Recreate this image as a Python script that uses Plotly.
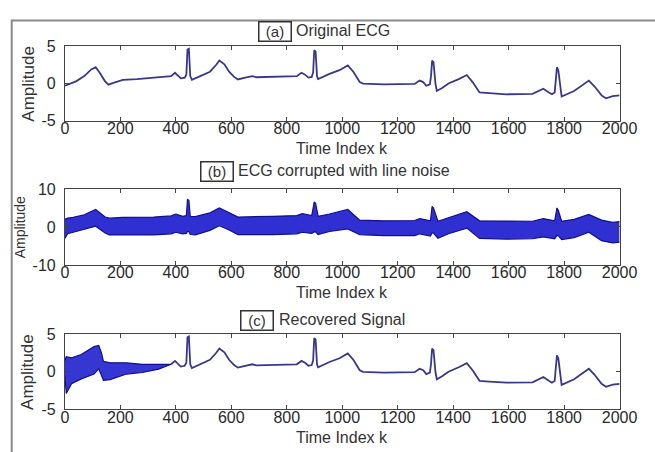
import plotly.graph_objects as go

# ---------------- data ----------------
ecg_k = [0, 15, 40, 70, 95, 111, 125, 145, 157, 175, 209, 260, 320, 383, 397, 418, 432, 438, 442, 447,
         452, 458, 488, 523, 545, 557, 575, 592, 610, 624, 650, 676, 690, 750, 836, 853, 866, 878, 890,
         895, 899, 904, 909, 913, 954, 990, 1020, 1040, 1063, 1075, 1150, 1261, 1279, 1292, 1303, 1316,
         1320, 1324, 1329, 1336, 1341, 1360, 1383, 1420, 1449, 1470, 1495, 1530, 1592, 1686, 1725, 1745,
         1756, 1766, 1771, 1774, 1779, 1785, 1791, 1836, 1870, 1889, 1910, 1935, 1951, 1975, 2000]
ecg_v = [-0.3, -0.1, 0.3, 1.0, 1.9, 2.2, 1.5, 0.3, -0.15, 0.1, 0.5, 0.6, 0.75, 1.0, 1.45, 0.7, 0.8, 1.2, 4.6, 4.7,
         1.0, 0.5, 1.0, 1.6, 2.5, 3.1, 2.6, 1.6, 0.9, 0.55, 0.8, 1.0, 0.85, 0.9, 1.0, 1.45, 1.2, 0.8, 0.9,
         1.5, 4.5, 4.3, 1.0, 0.6, 1.3, 1.8, 2.45, 1.6, 0.2, 0.0, -0.1, -0.05, 0.4, 0.2, -0.3, -0.1,
         1.0, 3.1, 2.9, 0.0, -1.0, -0.6, 0.0, 0.6, 1.15, 0.2, -1.2, -1.3, -1.45, -1.4, -0.7, -1.2,
         -1.45, -1.2, 0.5, 2.2, 1.8, -0.5, -1.75, -1.0, -0.1, 0.4, -0.4, -1.6, -2.0, -1.7, -1.6]

# corrupted signal (b): envelope of the line-noise band
noisy_k = [0, 10, 30, 70, 111, 145, 160, 209, 320, 383, 400, 425, 438, 442, 447, 452, 470, 523, 557, 592,
           624, 750, 836, 856, 890, 899, 904, 913, 954, 1020, 1063, 1150, 1261, 1280, 1318, 1324, 1329,
           1345, 1383, 1449, 1495, 1592, 1686, 1725, 1766, 1774, 1779, 1791, 1836, 1889, 1935, 1975, 2000]
noisy_upper = [2.0, 2.3, 2.5, 3.2, 4.6, 2.6, 2.3, 2.5, 2.6, 2.9, 3.4, 2.8, 3.0, 7.2, 7.0, 2.8, 2.7, 3.7, 5.0, 3.7,
               2.6, 2.8, 3.0, 3.5, 3.0, 6.6, 6.2, 2.8, 3.4, 4.6, 1.8, 1.6, 1.7, 2.2, 1.6, 5.4, 5.0,
               1.5, 2.4, 4.0, 1.6, 1.5, 1.5, 2.2, 1.6, 5.0, 4.4, 1.5, 2.0, 3.3, 1.8, 1.2, 1.4]
noisy_lower = [-3.0, -1.8, -1.4, -0.7, 0.2, -1.6, -2.1, -2.1, -2.1, -1.8, -1.4, -1.8, -1.7, -1.2, -1.2, -2.0, -2.1, -0.9, 0.3, -0.8,
               -2.0, -2.0, -1.8, -1.4, -1.7, -1.3, -1.3, -2.0, -1.2, -0.5, -2.0, -2.3, -2.3, -1.8, -2.4, -1.5, -1.6,
               -3.0, -1.8, -0.3, -3.0, -3.2, -3.1, -2.6, -3.1, -2.2, -2.3, -3.3, -2.8, -1.4, -3.6, -4.2, -4.0]

# recovered signal (c): residual noise band while the filter converges
resid_k = [0, 5, 24, 59, 105, 122, 132, 139, 163, 222, 279, 338, 383]
resid_upper = [1.5, 2.0, 1.85, 2.3, 3.35, 3.5, 2.5, 1.4, 1.2, 1.2, 1.0, 1.0, 1.0]
resid_lower = [-0.5, -2.9, -1.6, -0.95, -0.3, 0.4, -0.5, -1.15, -1.05, -0.3, -0.1, 0.35, 1.0]

x_ticks = [0, 200, 400, 600, 800, 1000, 1200, 1400, 1600, 1800, 2000]
y_ticks_small = [-5, 0, 5]
y_ticks_big = [-10, 0, 10]
titles = [("(a)", "Original ECG"), ("(b)", "ECG corrupted with line noise"), ("(c)", "Recovered Signal")]
x_label = "Time Index k"
y_label = "Amplitude"

# ---------------- layout helpers ----------------
W, H = 655, 452
def px(x):
    return x / W
def py(y):
    return 1 - y / H

FONT = "Liberation Sans, Arial, sans-serif"
ecg_color = "#38388a"

fig = go.Figure()

# (c) recovered = original after convergence
rec_k = [k for k in ecg_k if k >= 383]
rec_v = [v for k, v in zip(ecg_k, ecg_v) if k >= 383]

fig.add_trace(go.Scatter(x=ecg_k, y=ecg_v, mode="lines", line=dict(color=ecg_color, width=1.8),
                         xaxis="x", yaxis="y", showlegend=False))
fig.add_trace(go.Scatter(x=noisy_k, y=noisy_lower, mode="lines", line=dict(color="#10108e", width=1.2),
                         xaxis="x2", yaxis="y2", showlegend=False))
fig.add_trace(go.Scatter(x=noisy_k, y=noisy_upper, mode="lines", line=dict(color="#10108e", width=1.2),
                         fill="tonexty", fillcolor="rgba(26,26,205,0.9)",
                         xaxis="x2", yaxis="y2", showlegend=False))
fig.add_trace(go.Scatter(x=rec_k, y=rec_v, mode="lines", line=dict(color=ecg_color, width=1.8),
                         xaxis="x3", yaxis="y3", showlegend=False))
fig.add_trace(go.Scatter(x=resid_k, y=resid_lower, mode="lines", line=dict(color="#10108e", width=1.2),
                         xaxis="x3", yaxis="y3", showlegend=False))
fig.add_trace(go.Scatter(x=resid_k, y=resid_upper, mode="lines", line=dict(color="#10108e", width=1.2),
                         fill="tonexty", fillcolor="rgba(26,26,205,0.88)",
                         xaxis="x3", yaxis="y3", showlegend=False))

panels = [(40, 117, y_ticks_small, [-5, 5]), (188, 267, y_ticks_big, [-10, 10]), (339, 417, y_ticks_small, [-5, 5])]
xdom = [px(63), px(637)]

axis_common = dict(showline=True, linecolor="#444", linewidth=1, mirror="ticks", ticks="inside",
                   ticklen=4, tickcolor="#444", showgrid=False, zeroline=False,
                   tickfont=dict(family=FONT, size=16, color="#2a2a2a"))

layout = dict(width=W, height=H, margin=dict(l=0, r=0, t=0, b=0), paper_bgcolor="white",
              plot_bgcolor="white", showlegend=False)
annotations = []
title_pos = [(280, 24, 300), (220, 170, 240), (262, 325, 283)]
xlabel_y = [146, 296, 446]
ylabel_x = [25, 17, 25]
ylabel_size = [17, 14, 17]
for i, (top, bot, yt, yr) in enumerate(panels):
    sx = "" if i == 0 else str(i + 1)
    layout["xaxis" + sx] = dict(domain=xdom, range=[0, 2000], anchor="y" + sx, tickvals=x_ticks,
                                ticktext=[str(t) for t in x_ticks], ticklabelstandoff=-7, **axis_common)
    layout["yaxis" + sx] = dict(domain=[py(bot), py(top)], range=yr, anchor="x" + sx, tickvals=yt,
                                ticktext=[str(t) for t in yt], ticklabelstandoff=5, **axis_common)
    tag, txt = titles[i]
    bx, by, tx = title_pos[i]
    annotations.append(dict(text=tag, x=px(bx), y=py(by), xref="paper", yref="paper", showarrow=False,
                            xanchor="center", yanchor="middle", bordercolor="#333", borderwidth=1.5,
                            borderpad=0, width=31, height=18, bgcolor="white",
                            font=dict(family=FONT, size=15, color="#333")))
    annotations.append(dict(text=txt, x=px(tx), y=py(by - 1), xref="paper", yref="paper", showarrow=False,
                            xanchor="left", yanchor="middle",
                            font=dict(family=FONT, size=16, color="#333")))
    annotations.append(dict(text=x_label, x=px(350), y=py(xlabel_y[i]), xref="paper", yref="paper",
                            showarrow=False, xanchor="center", yanchor="middle",
                            font=dict(family=FONT, size=16, color="#333")))
    annotations.append(dict(text=y_label, x=px(ylabel_x[i]), y=py((top + bot) / 2), xref="paper", yref="paper",
                            showarrow=False, xanchor="center", yanchor="middle", textangle=-90,
                            font=dict(family=FONT, size=ylabel_size[i], color="#333")))
layout["annotations"] = annotations
layout["shapes"] = [dict(type="rect", xref="paper", yref="paper", x0=px(8), x1=px(720), y0=py(13), y1=py(520),
                         line=dict(color="#8a8a8a", width=2), fillcolor="rgba(0,0,0,0)", layer="below")]
fig.update_layout(**layout)
fig.write_html("out.html")
